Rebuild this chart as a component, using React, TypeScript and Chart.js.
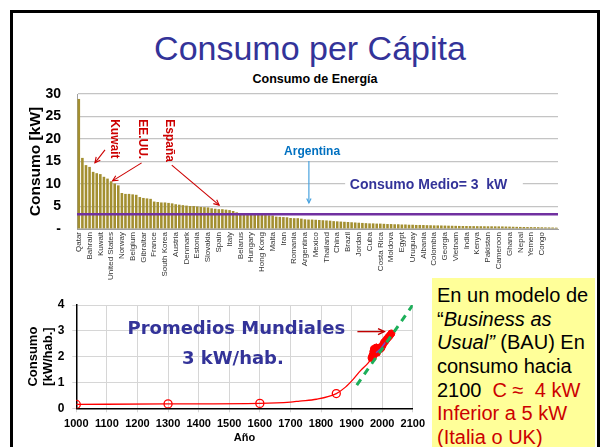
import React, { useEffect, useRef } from 'react';
import { Chart, registerables } from 'chart.js';

Chart.register(...registerables);

// ---------- Upper chart: energy consumption per capita by country ----------
const COUNTRY_LABELS = [
  'Qatar', 'Bahrain', 'Kuwait', 'United States', 'Norway', 'Belgium', 'Gibraltar', 'France',
  'South Korea', 'Austria', 'Denmark', 'Estonia', 'Slovakia', 'Spain', 'Italy', 'Belarus',
  'Hungary', 'Hong Kong', 'Malta', 'Iran', 'Romania', 'Argentina', 'Mexico', 'Thailand',
  'China', 'Brazil', 'Jordan', 'Cuba', 'Costa Rica', 'Moldova', 'Egypt', 'Uruguay',
  'Albania', 'Colombia', 'Georgia', 'Vietnam', 'India', 'Kenya', 'Pakistan', 'Cameroon',
  'Ghana', 'Nepal', 'Yemen', 'Congo',
];
const LABEL_EVERY = 3;

const ENERGY_KW = [
  28.9, 15.8, 14.2, 13.8, 12.7, 12.4, 12.2, 11.6, 11.2, 10.6,
  10.1, 9.7, 8.0, 7.8, 7.8, 7.7, 7.6, 7.1, 6.9, 6.8,
  6.7, 6.1, 6.0, 5.9, 5.9, 5.8, 5.7, 5.5, 5.4, 5.3,
  5.2, 5.1, 5.1, 5.0, 4.9, 4.85, 4.8, 4.6, 4.5, 4.4,
  4.4, 4.3, 4.2, 4.0, 3.7, 3.5, 3.4, 3.4, 3.35, 3.3,
  3.3, 3.15, 3.1, 3.05, 3.0, 2.75, 2.7, 2.65, 2.6, 2.45,
  2.4, 2.4, 2.3, 2.15, 2.1, 2.1, 2.05, 2.0, 1.95, 1.9,
  1.85, 1.75, 1.7, 1.65, 1.6, 1.55, 1.5, 1.45, 1.4, 1.35,
  1.3, 1.25, 1.25, 1.2, 1.2, 1.15, 1.1, 1.1, 1.05, 1.05,
  1.0, 1.0, 0.95, 0.95, 0.9, 0.9, 0.88, 0.85, 0.83, 0.8,
  0.8, 0.78, 0.76, 0.74, 0.72, 0.7, 0.68, 0.67, 0.66, 0.65,
  0.64, 0.63, 0.62, 0.61, 0.6, 0.6, 0.59, 0.58, 0.57, 0.55,
  0.53, 0.5, 0.48, 0.46, 0.44, 0.43, 0.42, 0.41, 0.4, 0.38,
  0.36, 0.35, 0.33, 0.3,
];
const MEAN_KW = 3.3;
const TOP_Y_MAX = 30;
const TOP_Y_STEP = 5;

const CATEGORIES = ENERGY_KW.map((_, i) =>
  i % LABEL_EVERY === 0 ? COUNTRY_LABELS[i / LABEL_EVERY] ?? '' : ''
);

// ---------- Lower chart: world average per capita over time ----------
const MARKED_YEARS = [1000, 1300, 1600, 1850];
const MARKED_KW = [0.15, 0.17, 0.19, 0.57];

const CURVE_YEARS = [1000, 1300, 1600, 1700, 1730, 1785, 1850, 1880, 1905, 1930, 1953, 1968];
const CURVE_KW = [0.15, 0.17, 0.19, 0.24, 0.28, 0.35, 0.57, 0.82, 1.12, 1.47, 1.74, 1.98];

const RECENT_YEARS = [1965, 1968, 1971, 1973, 1975, 1978, 1980, 1983, 1986, 1990, 1994, 1998, 2002, 2006, 2010, 2015, 2020, 2025, 2030];
const RECENT_KW = [1.95, 2.05, 2.2, 2.3, 2.15, 2.3, 2.35, 2.15, 2.25, 2.35, 2.3, 2.35, 2.45, 2.55, 2.6, 2.68, 2.75, 2.82, 2.9];

const BLUE_YEARS = [1980, 1995, 2010];
const BLUE_KW = [2.15, 2.3, 2.55];

const TREND_YEARS = [1917, 2100];
const TREND_KW = [0.9, 4.0];

const LOW_X_MIN = 1000;
const LOW_X_MAX = 2100;
const LOW_Y_MAX = 4;

const FONT_SANS = "'Liberation Sans', Arial, sans-serif";
const FONT_WIDE = "'DejaVu Sans', Verdana, sans-serif";

function drawArrow(ctx: CanvasRenderingContext2D, x1: number, y1: number, x2: number, y2: number, color: string, width: number, head = 6) {
  ctx.save();
  ctx.strokeStyle = color;
  ctx.lineWidth = width;
  ctx.beginPath();
  ctx.moveTo(x1, y1);
  ctx.lineTo(x2, y2);
  ctx.stroke();
  const a = Math.atan2(y2 - y1, x2 - x1);
  ctx.beginPath();
  ctx.moveTo(x2 - head * Math.cos(a - 0.45), y2 - head * Math.sin(a - 0.45));
  ctx.lineTo(x2, y2);
  ctx.lineTo(x2 - head * Math.cos(a + 0.45), y2 - head * Math.sin(a + 0.45));
  ctx.stroke();
  ctx.restore();
}

const RED_NOTES = [
  { text: 'Kuwait', idx: 9.8, kw: 24.4 },
  { text: 'EE.UU.', idx: 17.6, kw: 24.4 },
  { text: 'España', idx: 25.3, kw: 24.4 },
];
const RED_ARROWS = [
  { from: [7.3, 17.6], to: [4.5, 14.7] },
  { from: [17.5, 14.7], to: [9.4, 10.7] },
  { from: [25.9, 14.2], to: [39.1, 5.3] },
];

const topNotes = {
  id: 'topNotes',
  afterDatasetsDraw(chart: any) {
    const { ctx, chartArea, scales } = chart;
    const x = scales.x;
    const y = scales.y;
    ctx.save();
    // mean line
    const my = y.getPixelForValue(MEAN_KW);
    ctx.strokeStyle = '#7030A0';
    ctx.lineWidth = 2.5;
    ctx.beginPath();
    ctx.moveTo(chartArea.left, my);
    ctx.lineTo(chartArea.right, my);
    ctx.stroke();

    // red rotated labels
    ctx.fillStyle = '#CC0000';
    ctx.font = `bold 12px ${FONT_SANS}`;
    ctx.textAlign = 'left';
    ctx.textBaseline = 'middle';
    RED_NOTES.forEach((n) => {
      ctx.save();
      ctx.translate(x.getPixelForValue(n.idx), y.getPixelForValue(n.kw));
      ctx.rotate(Math.PI / 2);
      ctx.fillText(n.text, 0, 0);
      ctx.restore();
    });
    RED_ARROWS.forEach((a) => {
      drawArrow(ctx, x.getPixelForValue(a.from[0]), y.getPixelForValue(a.from[1]),
        x.getPixelForValue(a.to[0]), y.getPixelForValue(a.to[1]), '#CC0000', 1.1, 6);
    });

    // Argentina
    ctx.fillStyle = '#0070C0';
    ctx.font = `bold 12px ${FONT_SANS}`;
    ctx.textAlign = 'center';
    ctx.fillText('Argentina', x.getPixelForValue(65), y.getPixelForValue(17.1));
    drawArrow(ctx, x.getPixelForValue(64.1), y.getPixelForValue(15.1),
      x.getPixelForValue(64.1), y.getPixelForValue(5.8), '#4AA3DF', 1.2, 5);

    // Consumo medio label with white box
    const bx1 = x.getPixelForValue(74.2);
    const bx2 = x.getPixelForValue(123.7);
    const by1 = y.getPixelForValue(12.75);
    const by2 = y.getPixelForValue(6.9);
    ctx.fillStyle = '#ffffff';
    ctx.fillRect(bx1, by1, bx2 - bx1, by2 - by1);
    ctx.fillStyle = '#333399';
    ctx.font = `bold 14px ${FONT_SANS}`;
    ctx.textAlign = 'left';
    ctx.fillText('Consumo Medio= 3  kW', x.getPixelForValue(75.5), y.getPixelForValue(9.8));
    ctx.restore();
  },
};

const lowNotes = {
  id: 'lowNotes',
  afterDatasetsDraw(chart: any) {
    const { ctx, scales } = chart;
    const x = scales.x;
    const y = scales.y;
    ctx.save();
    ctx.fillStyle = '#333399';
    ctx.font = `bold 18px ${FONT_WIDE}`;
    ctx.textAlign = 'center';
    ctx.textBaseline = 'middle';
    ctx.fillText('Promedios Mundiales', x.getPixelForValue(1523), y.getPixelForValue(3.06));
    ctx.fillText('3 kW/hab.', x.getPixelForValue(1512), y.getPixelForValue(1.9));
    drawArrow(ctx, x.getPixelForValue(1919), y.getPixelForValue(2.97),
      x.getPixelForValue(2007), y.getPixelForValue(2.97), '#C00000', 1.4, 7);
    ctx.restore();
  },
};

function toPoints(xs: number[], ys: number[]) {
  return xs.map((v, i) => ({ x: v, y: ys[i] }));
}

export default function App() {
  const topRef = useRef<HTMLCanvasElement | null>(null);
  const lowRef = useRef<HTMLCanvasElement | null>(null);

  useEffect(() => {
    const top = new Chart(topRef.current as HTMLCanvasElement, {
      type: 'bar',
      data: {
        labels: CATEGORIES,
        datasets: [
          {
            data: ENERGY_KW,
            backgroundColor: '#A38F30',
            borderWidth: 0,
            barPercentage: 0.72,
            categoryPercentage: 1,
          },
        ],
      },
      options: {
        responsive: false,
        animation: false,
        maintainAspectRatio: false,
        layout: { padding: { left: 0, right: 46, top: 28, bottom: 0 } },
        plugins: { legend: { display: false }, tooltip: { enabled: false }, title: { display: false } },
        scales: {
          x: {
            grid: { display: false, drawTicks: false },
            border: { display: true, color: '#a0a0a0', width: 1 },
            ticks: {
              autoSkip: false,
              maxRotation: 90,
              minRotation: 90,
              padding: 3,
              color: '#333333',
              font: { family: FONT_SANS, size: 8 },
              callback: (_v: any, i: number) => CATEGORIES[i],
            },
            afterFit: (s: any) => { s.height = 61; },
          },
          y: {
            min: 0,
            max: TOP_Y_MAX,
            ticks: {
              stepSize: TOP_Y_STEP,
              padding: 16,
              color: '#000000',
              font: { family: FONT_SANS, size: 14, weight: 'bold' },
              callback: (v: any) => (v === 0 ? '-' : String(v)),
            },
            grid: { color: '#c4c4c4', drawTicks: false, lineWidth: 1.2 },
            border: { display: true, color: '#a0a0a0' },
            title: {
              display: true,
              text: 'Consumo [kW]',
              color: '#000000',
              font: { family: FONT_SANS, size: 15.5, weight: 'bold' },
              padding: { top: 26.7, bottom: 0 },
            },
            afterFit: (s: any) => { s.width = 77; },
          },
        },
      } as any,
      plugins: [topNotes],
    });

    const low = new Chart(lowRef.current as HTMLCanvasElement, {
      type: 'line',
      data: {
        datasets: [
          {
            data: toPoints(TREND_YEARS, TREND_KW),
            borderColor: '#1DAF5A',
            borderWidth: 3,
            borderDash: [7, 6],
            pointRadius: 0,
            fill: false,
            order: 0,
          },
          {
            data: toPoints(BLUE_YEARS, BLUE_KW),
            borderColor: '#6A4FC8',
            borderWidth: 1.5,
            pointRadius: 0,
            fill: false,
            order: 1,
          },
          {
            data: toPoints(RECENT_YEARS, RECENT_KW),
            borderColor: '#FF0000',
            backgroundColor: '#FF0000',
            borderWidth: 3,
            pointRadius: 3.5,
            pointBorderWidth: 1,
            fill: false,
            order: 2,
          },
          {
            data: toPoints(CURVE_YEARS, CURVE_KW),
            borderColor: '#FF0000',
            borderWidth: 1.3,
            pointRadius: 0,
            cubicInterpolationMode: 'monotone',
            fill: false,
            order: 3,
          },
          {
            data: toPoints(MARKED_YEARS, MARKED_KW),
            showLine: false,
            pointRadius: 4,
            pointBorderColor: '#FF0000',
            pointBackgroundColor: 'rgba(255,255,255,0)',
            pointBorderWidth: 1.3,
            order: 3,
          },
        ],
      },
      options: {
        responsive: false,
        animation: false,
        maintainAspectRatio: false,
        layout: { padding: { left: 0, right: 17, top: 17, bottom: 0 } },
        plugins: { legend: { display: false }, tooltip: { enabled: false } },
        scales: {
          x: {
            type: 'linear',
            min: LOW_X_MIN,
            max: LOW_X_MAX,
            ticks: {
              stepSize: 100,
              padding: 5,
              color: '#000000',
              font: { family: FONT_SANS, size: 11, weight: 'bold' },
              callback: (v: any) => String(v),
            },
            grid: { color: '#d6d6d6', tickLength: 4 },
            border: { display: true, color: '#000000', width: 1.5 },
            title: {
              display: true,
              text: 'Año',
              color: '#000000',
              font: { family: FONT_SANS, size: 11, weight: 'bold' },
              padding: { top: 0, bottom: 2.4 },
            },
            afterFit: (s: any) => { s.height = 38.7; },
          },
          y: {
            min: 0,
            max: LOW_Y_MAX,
            ticks: {
              stepSize: 1,
              padding: 8,
              color: '#000000',
              font: { family: FONT_SANS, size: 12, weight: 'bold' },
            },
            grid: { color: '#d6d6d6', tickLength: 4 },
            border: { display: true, color: '#000000', width: 1.5 },
            title: {
              display: true,
              text: ['Consumo', '[kW/hab.]'],
              color: '#000000',
              font: { family: FONT_SANS, size: 13, weight: 'bold' },
              padding: { top: 25.2, bottom: 0 },
            },
            afterFit: (s: any) => { s.width = 76.3; },
          },
        },
      } as any,
      plugins: [lowNotes],
    });

    return () => {
      top.destroy();
      low.destroy();
    };
  }, []);

  const red = '#CC0000';
  const line: React.CSSProperties = { whiteSpace: 'pre', height: '23.7px' };

  return (
    <div
      style={{
        position: 'absolute',
        left: 0,
        top: 0,
        width: 604,
        height: 447,
        overflow: 'hidden',
        background: '#ffffff',
      }}
    >
      <div
        style={{
          position: 'absolute',
          left: 10,
          top: 10,
          width: 584,
          height: 460,
          border: '3px solid #000000',
        }}
      />
      <div
        style={{
          position: 'absolute',
          left: 0,
          top: 28,
          width: 620,
          textAlign: 'center',
          fontFamily: FONT_SANS,
          fontSize: 34,
          lineHeight: '40px',
          color: '#333399',
        }}
      >
        Consumo per Cápita
      </div>
      <div
        style={{
          position: 'absolute',
          left: 0,
          top: 71,
          width: 630,
          textAlign: 'center',
          fontFamily: FONT_SANS,
          fontSize: 12.5,
          fontWeight: 'bold',
          lineHeight: '16px',
          color: '#000000',
        }}
      >
        Consumo de Energía
      </div>
      <canvas
        ref={topRef}
        width={604}
        height={224}
        style={{ position: 'absolute', left: 0, top: 66, width: 604, height: 224 }}
      />
      <canvas
        ref={lowRef}
        width={430}
        height={159}
        style={{ position: 'absolute', left: 0, top: 288, width: 430, height: 159 }}
      />
      <div
        style={{
          position: 'absolute',
          left: 432,
          top: 278,
          width: 163,
          height: 200,
          background: '#FFFF99',
          boxSizing: 'border-box',
          paddingLeft: 5,
          paddingTop: 6,
          fontFamily: FONT_SANS,
          fontSize: 20,
          lineHeight: '23.7px',
          color: '#000000',
        }}
      >
        <div style={line}>En un modelo de</div>
        <div style={line}>“<i>Business as</i></div>
        <div style={line}><i>Usual”</i> (BAU) En</div>
        <div style={line}>consumo hacia</div>
        <div style={line}>2100  <span style={{ color: red }}>C ≈  4 kW</span></div>
        <div style={{ ...line, color: red }}>Inferior a 5 kW</div>
        <div style={{ ...line, color: red }}>(Italia o UK)</div>
      </div>
    </div>
  );
}
